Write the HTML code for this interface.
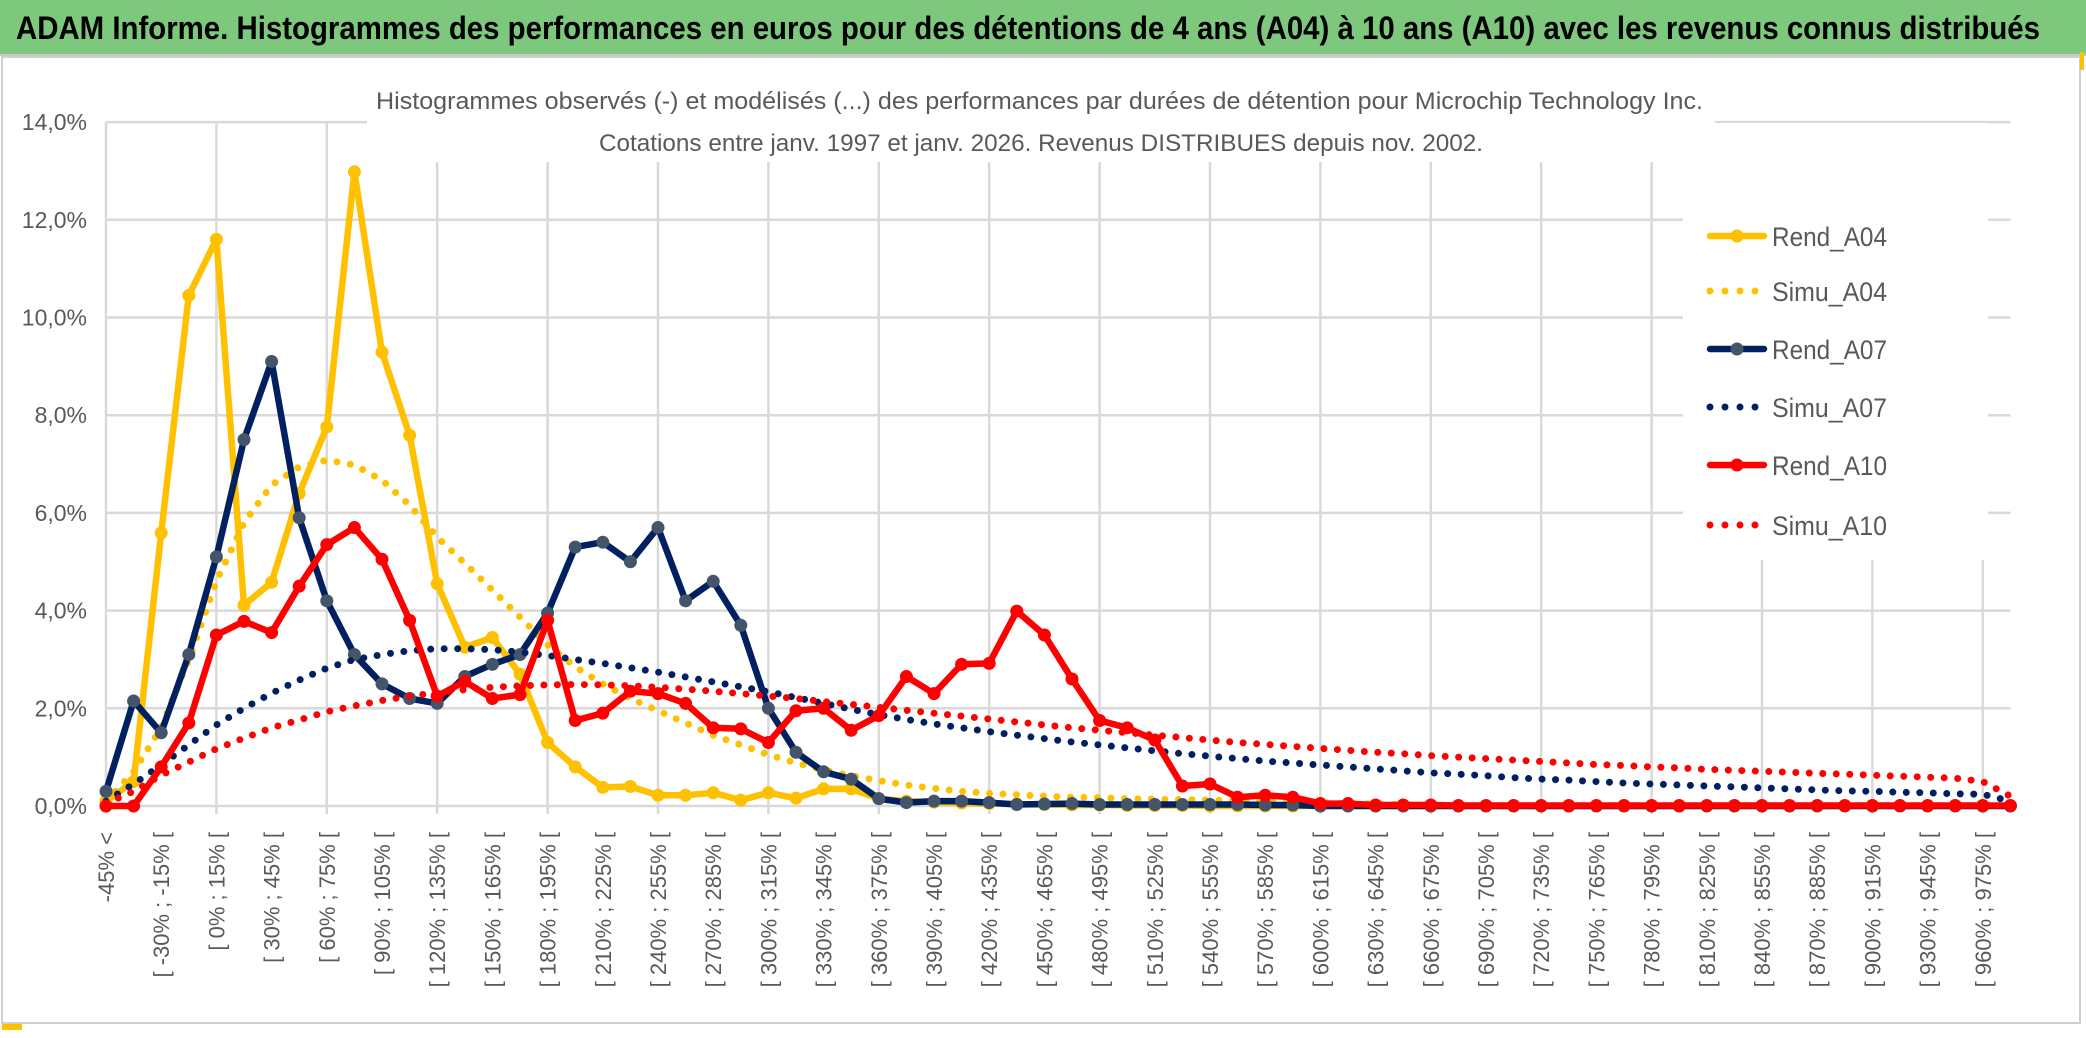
<!DOCTYPE html>
<html><head><meta charset="utf-8">
<style>
html,body{margin:0;padding:0;background:#fff;}
body{width:2086px;height:1033px;overflow:hidden;font-family:"Liberation Sans",sans-serif;}
svg text{font-family:"Liberation Sans",sans-serif;}
</style></head>
<body>
<svg id="chart" width="2086" height="1033" viewBox="0 0 2086 1033" xmlns="http://www.w3.org/2000/svg">
  <rect x="0" y="0" width="2086" height="54" fill="#7EC87E"/>
  <line x1="0" y1="55" x2="2086" y2="55" stroke="#c8c8c8" stroke-width="2"/>
  <text x="16" y="39" font-size="32" font-weight="bold" fill="#000" textLength="2024" lengthAdjust="spacingAndGlyphs">ADAM Informe. Histogrammes des performances en euros pour des détentions de 4 ans (A04) à 10 ans (A10) avec les revenus connus distribués</text>
  <rect x="2" y="57" width="2078" height="966" fill="#fff" stroke="#d0d0d0" stroke-width="2"/>
  <rect x="2080" y="52" width="4" height="18" fill="#FFC000"/>
  <rect x="2" y="1024" width="20" height="6" fill="#FFC000"/>
  <g id="grid"></g>
  <rect x="367" y="58" width="1348" height="104" fill="#fff"/>
  <text x="376" y="109" font-size="24" fill="#595959" textLength="1327" lengthAdjust="spacingAndGlyphs">Histogrammes observés (-) et modélisés (...) des performances par durées de détention pour Microchip Technology Inc.</text>
  <text x="599" y="151" font-size="24" fill="#595959" textLength="884" lengthAdjust="spacingAndGlyphs">Cotations entre janv. 1997 et janv. 2026. Revenus DISTRIBUES depuis nov. 2002.</text>
  <g id="ylabels"></g>
  <g id="xlabels"></g>
  <g id="series"></g>
  <rect x="1683" y="123" width="305" height="437" fill="#fff"/>
  <g id="legend"></g>
</svg>
<script>
const categories = (function(){
  const c = ['-45% <'];
  for (let lo = -45; lo < 975; lo += 15) c.push('[ ' + lo + '% ; ' + (lo + 15) + '% [');
  c.push('975% >=');
  return c;
})();
const yTicks = [0, 2, 4, 6, 8, 10, 12, 14];
const yTickLabels = ['0,0%', '2,0%', '4,0%', '6,0%', '8,0%', '10,0%', '12,0%', '14,0%'];

const rendA04 = [0.1,0.5,5.59,10.45,11.6,4.11,4.58,6.4,7.76,12.98,9.29,7.59,4.55,3.25,3.45,2.7,1.3,0.8,0.38,0.4,0.22,0.22,0.27,0.12,0.27,0.16,0.35,0.35,0.15,0.1,0.08,0.06,0.05,0.04,0.03,0.02,0.02,0.01,0.01,0.01,0,0,0,0,0,0,0,0,0,0,0,0,0,0,0,0,0,0,0,0,0,0,0,0,0,0,0,0,0,0];
const simuA04 = [0.1,0.7,1.6,3.0,4.6,5.8,6.57,6.94,7.08,6.98,6.67,6.16,5.5,4.97,4.42,3.87,3.3,2.85,2.5,2.2,1.95,1.7,1.45,1.25,1.05,0.88,0.74,0.62,0.52,0.43,0.36,0.3,0.26,0.23,0.2,0.18,0.17,0.15,0.14,0.13,0.12,0.1,0.09,0.08,0.07,0.05,0.04,0.03,0.02,0.01,0,0,0,0,0,0,0,0,0,0,0,0,0,0,0,0,0,0,0,0];
const rendA07 = [0.3,2.15,1.5,3.1,5.1,7.5,9.1,5.9,4.2,3.1,2.5,2.2,2.1,2.65,2.9,3.1,3.95,5.3,5.4,5.0,5.7,4.2,4.6,3.7,2.0,1.1,0.7,0.55,0.15,0.07,0.1,0.1,0.07,0.03,0.04,0.05,0.03,0.03,0.03,0.03,0.03,0.03,0.02,0.02,0,0,0,0,0,0,0,0,0,0,0,0,0,0,0,0,0,0,0,0,0,0,0,0,0,0];
const simuA07 = [0.1,0.45,0.84,1.25,1.66,2.0,2.31,2.58,2.82,3.0,3.1,3.18,3.22,3.22,3.2,3.15,3.08,3.0,2.92,2.83,2.74,2.64,2.54,2.44,2.34,2.22,2.1,1.98,1.87,1.77,1.68,1.6,1.52,1.45,1.38,1.31,1.25,1.19,1.13,1.07,1.02,0.97,0.92,0.88,0.84,0.8,0.76,0.72,0.68,0.65,0.62,0.58,0.55,0.53,0.5,0.47,0.45,0.43,0.41,0.39,0.37,0.35,0.33,0.31,0.3,0.28,0.27,0.25,0.24,0.1];
const rendA10 = [0,0,0.8,1.7,3.5,3.78,3.55,4.5,5.35,5.7,5.05,3.8,2.25,2.55,2.2,2.28,3.8,1.75,1.9,2.35,2.3,2.1,1.6,1.58,1.3,1.95,2.0,1.55,1.85,2.65,2.3,2.9,2.92,3.99,3.5,2.6,1.75,1.6,1.35,0.41,0.45,0.18,0.22,0.18,0.05,0.05,0.02,0.02,0.02,0.01,0.01,0.01,0.01,0.01,0.01,0.01,0.01,0.01,0.01,0.01,0.01,0.01,0.01,0.01,0.01,0.01,0.01,0.01,0.01,0.01];
const simuA10 = [0.05,0.3,0.63,0.9,1.17,1.39,1.6,1.76,1.93,2.05,2.16,2.25,2.32,2.38,2.43,2.46,2.48,2.49,2.48,2.46,2.43,2.39,2.35,2.3,2.25,2.2,2.14,2.08,2.02,1.96,1.9,1.84,1.78,1.72,1.66,1.6,1.55,1.5,1.45,1.4,1.35,1.3,1.26,1.22,1.18,1.14,1.1,1.07,1.03,1.0,0.97,0.94,0.91,0.88,0.85,0.83,0.8,0.78,0.75,0.73,0.71,0.69,0.67,0.65,0.63,0.61,0.59,0.57,0.5,0.2];

const NS = 'http://www.w3.org/2000/svg';
const X0 = 106, DX = 27.6, Y0 = 806, YPER = 48.85;
function xPos(i){ return X0 + i * DX; }
function yPos(v){ return Y0 - v * YPER; }
function mk(tag, parent){ const e = document.createElementNS(NS, tag); parent.appendChild(e); return e; }

const grid = document.getElementById('grid');
const plotRight = xPos(categories.length - 1);
yTicks.forEach(function(t){
  const l = mk('line', grid);
  
  
  l.setAttribute('x1', X0); l.setAttribute('x2', plotRight);
  l.setAttribute('y1', yPos(t)); l.setAttribute('y2', yPos(t));
  l.setAttribute('stroke', '#d9d9d9'); l.setAttribute('stroke-width', '2.5');
});
for (let i = 0; i < categories.length; i += 4) {
  const l = mk('line', grid);
  
  
  l.setAttribute('x1', xPos(i)); l.setAttribute('x2', xPos(i));
  l.setAttribute('y1', yPos(14)); l.setAttribute('y2', Y0 + 8);
  l.setAttribute('stroke', '#d9d9d9'); l.setAttribute('stroke-width', '2.5');
}

const yl = document.getElementById('ylabels');
yTicks.forEach(function(t, k){
  const tx = mk('text', yl);
  
  
  tx.setAttribute('x', 87); tx.setAttribute('y', yPos(t) + 8);
  tx.setAttribute('text-anchor', 'end'); tx.setAttribute('font-size', '23');
  tx.setAttribute('fill', '#595959');
  tx.textContent = yTickLabels[k];
});

const xl = document.getElementById('xlabels');
for (let i = 0; i < categories.length - 1; i += 2) {
  const tx = mk('text', xl);
  
  
  const x = xPos(i) + 8, y = 832;
  tx.setAttribute('transform', 'translate(' + x + ',' + y + ') rotate(-90)');
  tx.setAttribute('text-anchor', 'end'); tx.setAttribute('font-size', '22');
  tx.setAttribute('fill', '#595959');
  tx.textContent = categories[i];
}

const seriesDefs = [
  {name:'Rend_A04', data:rendA04, color:'#FFC000', marker:'#FFC000', dotted:false},
  {name:'Simu_A04', data:simuA04, color:'#FFC000', dotted:true},
  {name:'Rend_A07', data:rendA07, color:'#002060', marker:'#44546A', dotted:false},
  {name:'Simu_A07', data:simuA07, color:'#002060', dotted:true},
  {name:'Rend_A10', data:rendA10, color:'#FF0000', marker:'#FF0000', dotted:false},
  {name:'Simu_A10', data:simuA10, color:'#FF0000', dotted:true}
];
const sg = document.getElementById('series');
seriesDefs.forEach(function(s){
  const g = mk('g', sg);
  
  
  const pts = s.data.map(function(v, i){ return xPos(i).toFixed(1) + ',' + yPos(v).toFixed(1); }).join(' ');
  const pl = mk('polyline', g);
  
  
  pl.setAttribute('points', pts);
  pl.setAttribute('fill', 'none');
  pl.setAttribute('stroke', s.color);
  pl.setAttribute('stroke-linejoin', 'round');
  pl.setAttribute('stroke-linecap', 'round');
  if (s.dotted) {
    pl.setAttribute('stroke-width', '7');
    pl.setAttribute('stroke-dasharray', '0 13.5');
  } else {
    pl.setAttribute('stroke-width', '6.5');
    s.data.forEach(function(v, i){
      const c = mk('circle', g);
      
      
      c.setAttribute('cx', xPos(i)); c.setAttribute('cy', yPos(v));
      c.setAttribute('r', '6.5'); c.setAttribute('fill', s.marker);
    });
  }
});

const lg = document.getElementById('legend');
const legendY = [236, 291, 349, 407, 465, 525];
seriesDefs.forEach(function(s, k){
  const g = mk('g', lg);
  
  
  const y = legendY[k];
  const l = mk('line', g);
  
  
  l.setAttribute('x1', 1710); l.setAttribute('x2', 1764);
  l.setAttribute('y1', y); l.setAttribute('y2', y);
  l.setAttribute('stroke', s.color); l.setAttribute('stroke-linecap', 'round');
  if (s.dotted) { l.setAttribute('stroke-width', '7'); l.setAttribute('stroke-dasharray', '0 15'); }
  else {
    l.setAttribute('stroke-width', '6.5');
    const c = mk('circle', g);
    
    
    c.setAttribute('cx', 1737); c.setAttribute('cy', y); c.setAttribute('r', '6.5');
    c.setAttribute('fill', s.marker);
  }
  const t = mk('text', g);
  
  
  t.setAttribute('x', 1772); t.setAttribute('y', y + 10);
  t.setAttribute('font-size', '27'); t.setAttribute('fill', '#595959');
  t.setAttribute('textLength', '115'); t.setAttribute('lengthAdjust', 'spacingAndGlyphs');
  t.textContent = s.name;
});
</script>
</body></html>
